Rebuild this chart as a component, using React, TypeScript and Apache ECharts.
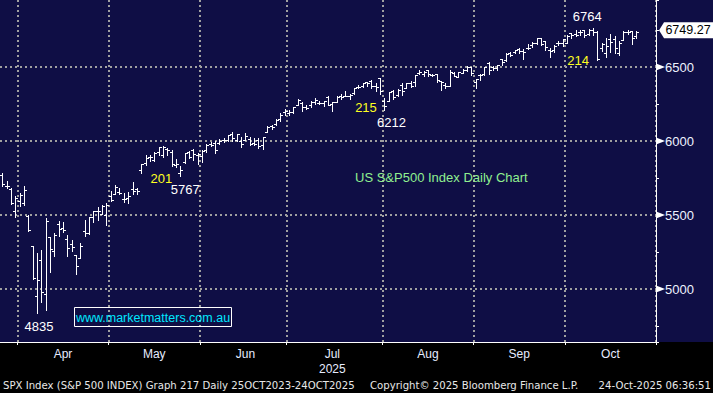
import React, { useEffect, useRef } from 'react';
import * as echarts from 'echarts';

// ---------- data ----------
const dates = [
  '2025-03-26','2025-03-27','2025-03-28','2025-03-31',
  '2025-04-01','2025-04-02','2025-04-03','2025-04-04','2025-04-07','2025-04-08','2025-04-09','2025-04-10','2025-04-11',
  '2025-04-14','2025-04-15','2025-04-16','2025-04-17','2025-04-21','2025-04-22','2025-04-23','2025-04-24','2025-04-25',
  '2025-04-28','2025-04-29','2025-04-30',
  '2025-05-01','2025-05-02','2025-05-05','2025-05-06','2025-05-07','2025-05-08','2025-05-09','2025-05-12','2025-05-13',
  '2025-05-14','2025-05-15','2025-05-16','2025-05-19','2025-05-20','2025-05-21','2025-05-22','2025-05-23','2025-05-27',
  '2025-05-28','2025-05-29','2025-05-30',
  '2025-06-02','2025-06-03','2025-06-04','2025-06-05','2025-06-06','2025-06-09','2025-06-10','2025-06-11','2025-06-12',
  '2025-06-13','2025-06-16','2025-06-17','2025-06-18','2025-06-20','2025-06-23','2025-06-24','2025-06-25','2025-06-26',
  '2025-06-27','2025-06-30',
  '2025-07-01','2025-07-02','2025-07-03','2025-07-07','2025-07-08','2025-07-09','2025-07-10','2025-07-11','2025-07-14',
  '2025-07-15','2025-07-16','2025-07-17','2025-07-18','2025-07-21','2025-07-22','2025-07-23','2025-07-24','2025-07-25',
  '2025-07-28','2025-07-29','2025-07-30','2025-07-31',
  '2025-08-01','2025-08-04','2025-08-05','2025-08-06','2025-08-07','2025-08-08','2025-08-11','2025-08-12','2025-08-13',
  '2025-08-14','2025-08-15','2025-08-18','2025-08-19','2025-08-20','2025-08-21','2025-08-22','2025-08-25','2025-08-26',
  '2025-08-27','2025-08-28','2025-08-29',
  '2025-09-02','2025-09-03','2025-09-04','2025-09-05','2025-09-08','2025-09-09','2025-09-10','2025-09-11','2025-09-12',
  '2025-09-15','2025-09-16','2025-09-17','2025-09-18','2025-09-19','2025-09-22','2025-09-23','2025-09-24','2025-09-25',
  '2025-09-26','2025-09-29','2025-09-30',
  '2025-10-01','2025-10-02','2025-10-03','2025-10-06','2025-10-07','2025-10-08','2025-10-09','2025-10-10','2025-10-13',
  '2025-10-14','2025-10-15','2025-10-16','2025-10-17','2025-10-20','2025-10-21','2025-10-22','2025-10-23',
];
const futureDates = ['2025-10-24', '2025-10-27', '2025-10-28', '2025-10-29'];

const opens = [
  5771, 5696, 5679, 5527,
  5597, 5580, 5492, 5292, 4953, 5193, 4966, 5353, 5255, 5441, 5411, 5335, 5305, 5232, 5207, 5395, 5381, 5489, 5529, 5509, 5499,
  5626, 5645, 5655, 5605, 5614, 5679, 5675, 5807, 5854, 5895, 5869, 5929, 5903, 5945, 5925, 5841, 5781, 5855, 5925, 5939, 5903,
  5897, 5939, 5978, 5985, 5987, 6005, 6009, 6050, 6009, 5997, 6004, 6012, 5987, 6004, 5970, 6062, 6104, 6112, 6151, 6193,
  6187, 6193, 6246, 6259, 6233, 6242, 6263, 6255, 6255, 6296, 6250, 6263, 6306, 6304, 6306, 6327, 6368, 6370, 6397, 6409, 6375, 6428,
  6271, 6271, 6337, 6309, 6379, 6359, 6389, 6398, 6462, 6453, 6478, 6445, 6450, 6404, 6380, 6375, 6458, 6433, 6458, 6483, 6498,
  6402, 6446, 6456, 6530, 6499, 6496, 6554, 6546, 6592, 6601, 6622, 6610, 6631, 6650, 6661, 6696, 6675, 6616, 6618, 6661, 6660,
  6665, 6731, 6722, 6736, 6748, 6725, 6753, 6740, 6627, 6596, 6690, 6687, 6596, 6685, 6736, 6743, 6710,
];
const highs = [
  5783, 5733, 5685, 5627,
  5650, 5695, 5500, 5292, 5246, 5267, 5481, 5353, 5381, 5459, 5450, 5367, 5328, 5232, 5309, 5469, 5489, 5528, 5553, 5571, 5581,
  5659, 5700, 5684, 5649, 5655, 5721, 5683, 5847, 5907, 5906, 5924, 5959, 5968, 5953, 5939, 5878, 5829, 5922, 5930, 5944, 5922,
  5937, 5981, 5991, 5999, 6017, 6022, 6043, 6059, 6046, 6027, 6051, 6024, 6018, 6018, 6026, 6102, 6108, 6146, 6187, 6215,
  6211, 6227, 6284, 6262, 6243, 6269, 6290, 6269, 6272, 6303, 6266, 6301, 6315, 6336, 6316, 6360, 6381, 6390, 6401, 6410, 6394, 6428,
  6288, 6330, 6347, 6349, 6394, 6395, 6409, 6446, 6480, 6474, 6481, 6456, 6456, 6404, 6394, 6478, 6466, 6467, 6487, 6508, 6500,
  6416, 6451, 6503, 6533, 6508, 6514, 6555, 6592, 6600, 6617, 6627, 6624, 6656, 6672, 6695, 6698, 6676, 6629, 6650, 6679, 6689,
  6718, 6731, 6750, 6749, 6753, 6754, 6764, 6744, 6665, 6697, 6720, 6712, 6678, 6745, 6752, 6746, 6746,
];
const lows = [
  5694, 5681, 5572, 5488,
  5558, 5571, 5390, 5069, 4835, 4910, 4857, 5116, 5220, 5358, 5386, 5220, 5255, 5101, 5207, 5356, 5371, 5455, 5468, 5506, 5434,
  5597, 5645, 5640, 5587, 5580, 5642, 5644, 5785, 5837, 5868, 5865, 5908, 5895, 5907, 5830, 5826, 5767, 5854, 5886, 5874, 5843,
  5861, 5929, 5967, 5921, 5979, 5994, 6000, 6002, 6003, 5963, 6004, 5974, 5971, 5953, 5944, 6059, 6080, 6108, 6133, 6178,
  6178, 6192, 6246, 6201, 6216, 6233, 6251, 6250, 6240, 6244, 6202, 6263, 6285, 6303, 6282, 6317, 6360, 6364, 6375, 6357, 6337, 6315,
  6212, 6271, 6285, 6301, 6313, 6357, 6364, 6373, 6451, 6441, 6441, 6437, 6401, 6343, 6361, 6374, 6439, 6432, 6457, 6471, 6445,
  6360, 6415, 6444, 6452, 6481, 6480, 6514, 6541, 6577, 6597, 6597, 6551, 6624, 6634, 6656, 6646, 6618, 6570, 6603, 6651, 6645,
  6660, 6699, 6707, 6718, 6700, 6714, 6719, 6550, 6610, 6570, 6603, 6593, 6584, 6685, 6722, 6653, 6699,
];
const closes = [
  5712, 5693, 5581, 5612,
  5633, 5671, 5397, 5074, 5062, 4982, 5457, 5268, 5363, 5406, 5397, 5276, 5283, 5158, 5288, 5376, 5485, 5525, 5529, 5561, 5569,
  5604, 5687, 5650, 5607, 5631, 5664, 5660, 5844, 5886, 5892, 5917, 5958, 5963, 5940, 5845, 5842, 5802, 5922, 5889, 5912, 5912,
  5936, 5970, 5971, 5939, 6000, 6006, 6039, 6022, 6045, 5977, 6033, 5983, 5981, 5967, 6025, 6092, 6092, 6141, 6173, 6205,
  6198, 6227, 6279, 6230, 6226, 6263, 6280, 6260, 6269, 6244, 6264, 6297, 6297, 6305, 6309, 6359, 6363, 6389, 6390, 6371, 6362, 6339,
  6238, 6330, 6299, 6345, 6340, 6389, 6374, 6446, 6466, 6469, 6450, 6449, 6411, 6396, 6370, 6467, 6440, 6466, 6481, 6502, 6460,
  6416, 6448, 6502, 6482, 6495, 6513, 6532, 6587, 6584, 6615, 6607, 6600, 6631, 6664, 6693, 6656, 6638, 6605, 6644, 6661, 6688,
  6711, 6715, 6716, 6740, 6714, 6753, 6735, 6553, 6655, 6644, 6671, 6630, 6664, 6735, 6735, 6699, 6738,
];

const monthNames = ['Jan', 'Feb', 'Mar', 'Apr', 'May', 'Jun', 'Jul', 'Aug', 'Sep', 'Oct', 'Nov', 'Dec'];
const yearLabel = '2025';
const yTickLabels = [5000, 5500, 6000, 6500];
const lastPrice = 6749.27;
const yMin = 4642;
const yMax = 6953;

const annotationTexts = ['4835', '201', '5767', '215', '6212', '214', '6764', 'US S&P500 Index Daily Chart'];
const annotationIdx = [8.46, 36.62, 42.14, 83.73, 89.59, 132.57, 134.64, 101.08];
const annotationValues = [4747, 5750, 5672, 6226, 6128, 6541, 6841, 5753];
const annotationKinds = ['price', 'count', 'price', 'count', 'price', 'count', 'price', 'title'];

const footerLeft = 'SPX Index (S&P 500 INDEX) Graph 217 Daily 25OCT2023-24OCT2025';
const footerMid = 'Copyright\u00A9 2025 Bloomberg Finance L.P.';
const footerRight = '24-Oct-2025 06:36:51';
const website = 'www.marketmatters.com.au';

// ---------- style ----------
const NAVY = '#0f0e45';
const FONT = '"Liberation Sans", Arial, sans-serif';
const NARROW = '"Liberation Sans Narrow", "DejaVu Sans Condensed", "Arial Narrow", sans-serif';
const GRID_LINE = { color: '#a0a0a0', width: 2, type: [2, 3] as number[] };
const KIND_COLORS: Record<string, string> = {
  price: '#ffffff',
  count: '#ffff20',
  title: '#90f090',
};
const SLOTS = 151; // bar slots across the plot
const PLOT_LEFT = -1;
const PLOT_RIGHT_GAP = 57;
const CHART_W = 713;
const SLOT_PX = (CHART_W - PLOT_RIGHT_GAP - PLOT_LEFT) / SLOTS;
const OVERLAY_MAX = -0.5 + (CHART_W - PLOT_LEFT) / SLOT_PX;
// slot positions (in bar-index units) of the right-hand axis markers and price tag
const AXIS_MARK_SLOT = 151.53;
const TAG_SLOT = 157.39;

const allDates = dates.concat(futureDates);
const monthOf = (d: string) => parseInt(d.slice(5, 7), 10);
const isMonthStart = (i: number) => i > 0 && i < allDates.length && monthOf(allDates[i]) !== monthOf(allDates[i - 1]);
const labelIdx = new Set<number>();
allDates.forEach((_, i) => { if (isMonthStart(i)) labelIdx.add(i + 10); });

const ohlcData = dates.map((_, i) => [i, opens[i], highs[i], lows[i], closes[i]]);

function buildOption() {
  return {
    animation: false,
    backgroundColor: '#000000',
    textStyle: { fontFamily: FONT },
    grid: [
      { left: PLOT_LEFT, right: PLOT_RIGHT_GAP, top: 0, bottom: 51, containLabel: false },
      { left: PLOT_LEFT, right: 0, top: 0, bottom: 51, containLabel: false },
    ],
    xAxis: [
      {
        type: 'category',
        gridIndex: 0,
        data: allDates,
        boundaryGap: true,
        axisLine: { show: true, lineStyle: { color: '#ffffff', width: 1 } },
        axisTick: { show: true, interval: (i: number) => isMonthStart(i), length: 3, lineStyle: { color: '#ffffff' } },
        axisLabel: {
          show: true,
          interval: (i: number) => labelIdx.has(i),
          formatter: (v: string) => {
            const m = monthOf(v);
            return monthNames[m - 1] + (m === 7 ? '\n' + yearLabel : '');
          },
          color: '#e6ecff',
          fontSize: 12,
          lineHeight: 15,
          margin: 4,
          fontFamily: FONT,
        },
        splitLine: { show: true, interval: (i: number) => isMonthStart(i), lineStyle: GRID_LINE },
      },
      {
        type: 'value',
        gridIndex: 1,
        min: -0.5,
        max: OVERLAY_MAX,
        show: false,
      },
    ],
    yAxis: [
      {
        type: 'value',
        gridIndex: 0,
        position: 'right',
        min: yMin,
        max: yMax,
        minInterval: 500,
        maxInterval: 500,
        axisLine: { show: true, lineStyle: { color: '#ffffff', width: 1 } },
        axisTick: { show: false },
        axisLabel: {
          show: true,
          showMinLabel: false,
          showMaxLabel: false,
          margin: 9,
          color: '#eef3ff',
          fontSize: 13,
          fontFamily: FONT,
          formatter: (v: number) => String(v),
        },
        splitLine: { show: true, showMinLine: false, showMaxLine: false, lineStyle: GRID_LINE },
      },
      {
        type: 'value',
        gridIndex: 0,
        position: 'right',
        min: yMin,
        max: yMax,
        minInterval: 250,
        maxInterval: 250,
        axisLine: { show: false },
        axisTick: { show: true, length: 3, lineStyle: { color: '#ffffff' } },
        axisLabel: { show: false },
        splitLine: { show: false },
      },
      {
        type: 'value',
        gridIndex: 1,
        min: yMin,
        max: yMax,
        show: false,
      },
    ],
    graphic: [
      { type: 'rect', z: -10, silent: true, shape: { x: 0, y: 0, width: 713, height: 342 }, style: { fill: NAVY } },
      { type: 'rect', z: 10, silent: true, shape: { x: 74.5, y: 307.5, width: 157, height: 19 }, style: { fill: 'none', stroke: '#ffffff', lineWidth: 1 } },
      { type: 'text', z: 10, silent: true, x: 153, y: 317.5, style: { text: website, fill: '#00e8ff', fontSize: 12.5, fontFamily: FONT, align: 'center', verticalAlign: 'middle' } },
      { type: 'text', z: 10, silent: true, x: 3, y: 385, style: { text: footerLeft, fill: '#e8e8e8', fontSize: 11.25, fontFamily: NARROW, align: 'left', verticalAlign: 'middle' } },
      { type: 'text', z: 10, silent: true, x: 370, y: 385, style: { text: footerMid, fill: '#e8e8e8', fontSize: 11.25, fontFamily: NARROW, align: 'left', verticalAlign: 'middle' } },
      { type: 'text', z: 10, silent: true, x: 711, y: 385, style: { text: footerRight, fill: '#e8e8e8', fontSize: 11.25, fontFamily: NARROW, align: 'right', verticalAlign: 'middle' } },
    ],
    series: [
      {
        type: 'custom',
        name: 'SPX',
        xAxisIndex: 0,
        yAxisIndex: 0,
        encode: { x: 0, y: [1, 2, 3, 4] },
        data: ohlcData,
        z: 3,
        renderItem: (params: any, api: any) => {
          const i = api.value(0);
          const ph = api.coord([i, api.value(2)]);
          const pl = api.coord([i, api.value(3)]);
          const po = api.coord([i, api.value(1)]);
          const pc = api.coord([i, api.value(4)]);
          const x = Math.round(ph[0]) + 0.5;
          const t = 2;
          const yo = Math.round(po[1]) + 0.5;
          const yc = Math.round(pc[1]) + 0.5;
          const st = { stroke: '#ffffff', lineWidth: 1 };
          return {
            type: 'group',
            children: [
              { type: 'line', shape: { x1: x, y1: Math.round(ph[1]), x2: x, y2: Math.round(pl[1]) + 1 }, style: st },
              { type: 'line', shape: { x1: x - t - 0.5, y1: yo, x2: x, y2: yo }, style: st },
              { type: 'line', shape: { x1: x, y1: yc, x2: x + t + 0.5, y2: yc }, style: st },
            ],
          };
        },
      },
      {
        type: 'scatter',
        name: 'axisMarks',
        xAxisIndex: 1,
        yAxisIndex: 2,
        clip: false,
        silent: true,
        z: 6,
        symbol: 'triangle',
        symbolRotate: -90,
        symbolSize: [7, 9],
        itemStyle: { color: '#ffffff', opacity: 1 },
        data: yTickLabels.map((v) => [AXIS_MARK_SLOT, v]),
      },
      {
        type: 'scatter',
        name: 'notes',
        xAxisIndex: 1,
        yAxisIndex: 2,
        clip: false,
        symbol: 'circle',
        symbolSize: 1,
        silent: true,
        z: 5,
        itemStyle: { color: 'transparent', opacity: 1 },
        data: annotationTexts.map((txt, k) => ({
          value: [annotationIdx[k], annotationValues[k]],
          label: {
            show: true,
            position: 'inside',
            formatter: txt,
            color: KIND_COLORS[annotationKinds[k]],
            fontSize: 13,
            fontFamily: FONT,
          },
        })),
        markPoint: {
          silent: true,
          symbol: 'path://M0,8 L5,0 L54,0 L54,16 L5,16 Z',
          symbolSize: [54, 16],
          itemStyle: { color: '#ffffff', opacity: 1 },
          label: {
            show: true,
            position: 'inside',
            offset: [2, 0],
            color: '#000000',
            fontSize: 12.5,
            fontFamily: FONT,
            formatter: lastPrice.toFixed(2),
          },
          data: [{ coord: [TAG_SLOT, lastPrice] }],
        },
      },
    ],
  };
}

export default function App() {
  const ref = useRef<HTMLDivElement>(null);
  useEffect(() => {
    if (!ref.current) return;
    const chart = echarts.init(ref.current, null, { renderer: 'svg' });
    chart.setOption(buildOption() as any);
    return () => chart.dispose();
  }, []);
  return <div ref={ref} style={{ position: 'fixed', left: 0, top: 0, width: 713, height: 393 }} />;
}
